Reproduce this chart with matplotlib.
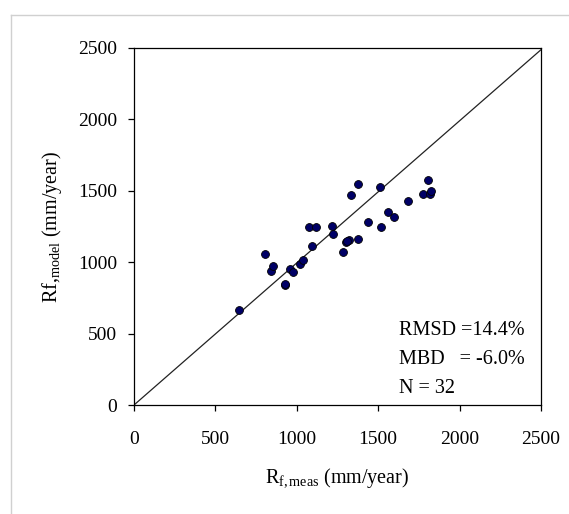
"""Rf,model vs Rf,meas scatter with 1:1 line."""
import matplotlib
matplotlib.use("Agg")
import matplotlib.pyplot as plt
from matplotlib.lines import Line2D

plt.rcParams["font.family"] = ["Liberation Serif", "DejaVu Serif"]
plt.rcParams["mathtext.fontset"] = "custom"
plt.rcParams["mathtext.rm"] = "Liberation Serif"
plt.rcParams["mathtext.it"] = "Liberation Serif:italic"

rf_meas = [644, 807, 842, 851, 925, 930, 958, 976, 1020, 1036,
           1076, 1121, 1092, 1214, 1225, 1281, 1303, 1321, 1310, 1332,
           1377, 1377, 1435, 1511, 1517, 1560, 1595, 1682, 1778, 1807,
           1818, 1827]
rf_model = [666, 1056, 935, 970, 841, 846, 951, 928, 986, 1016,
            1245, 1245, 1110, 1257, 1196, 1070, 1140, 1156, 1150, 1470,
            1547, 1161, 1285, 1530, 1245, 1355, 1315, 1432, 1476, 1577,
            1479, 1497]
line_x = [0, 2500]
line_y = [0, 2488]
ticks = [0, 500, 1000, 1500, 2000, 2500]
stats_lines = ["RMSD =14.4%", "MBD   = -6.0%", "N = 32"]

fig = plt.figure(figsize=(5.69, 5.14), dpi=100)
# light frame: left and top edges only (the picture is cut off right/bottom)
frame_kw = dict(transform=fig.transFigure, color="#d0d0d0", linewidth=1.0)
fig.lines.append(Line2D([11 / 569, 11 / 569], [0, 499 / 514], **frame_kw))
fig.lines.append(Line2D([11 / 569, 1.0], [499 / 514, 499 / 514], **frame_kw))

ax = fig.add_axes([134 / 569, 109 / 514, 407 / 569, 357 / 514])

ax.plot(line_x, line_y, color="#222222", linewidth=0.9, zorder=1)
ax.scatter(rf_meas, rf_model, s=32, color="#000066", edgecolors="#000000",
           linewidths=0.6, zorder=3)

ax.set_xlim(0, 2500)
ax.set_ylim(0, 2500)
ax.set_xticks(ticks)
ax.set_yticks(ticks)
ax.tick_params(direction="out", length=4, width=0.9, labelsize=14)
ax.tick_params(axis="x", pad=15)
ax.tick_params(axis="y", pad=8)
for sp in ax.spines.values():
    sp.set_linewidth(0.9)

ax.set_xlabel(r"R$_{\rm f,meas}$ (mm/year)", fontsize=14.5, labelpad=13)
ax.set_ylabel(r"Rf,$_{\rm model}$ (mm/year)", fontsize=14.5, labelpad=10)

for i, line in enumerate(stats_lines):
    ax.text(0.652, 0.196 - i * 0.081, line, transform=ax.transAxes,
            fontsize=14.5, ha="left", va="baseline")

fig.savefig("out.png", dpi=100)
